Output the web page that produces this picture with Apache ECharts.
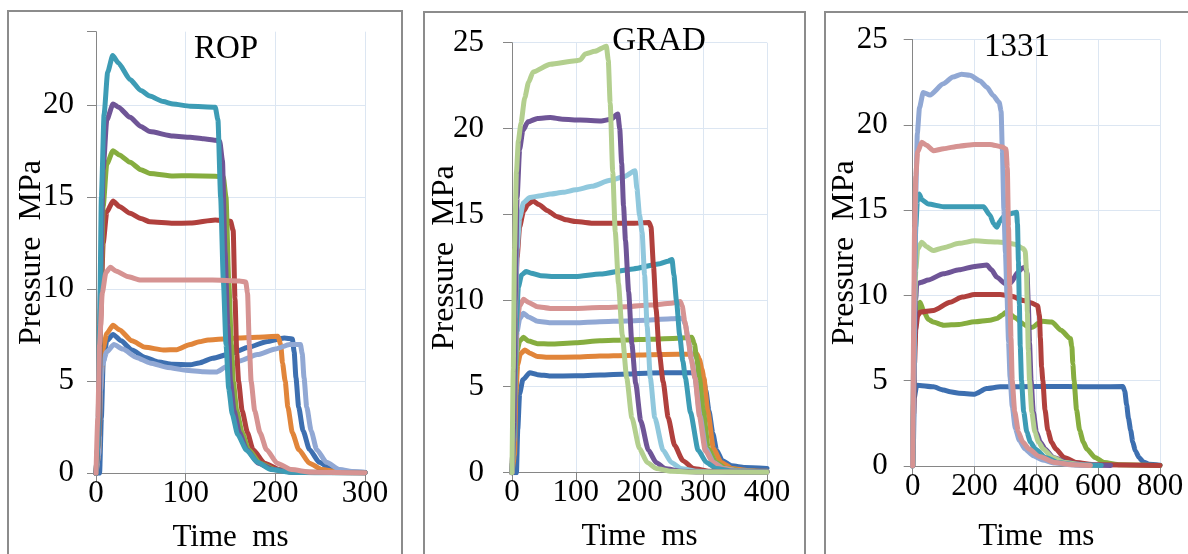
<!DOCTYPE html>
<html>
<head>
<meta charset="utf-8">
<script src="https://cdn.jsdelivr.net/npm/echarts@6/dist/echarts.min.js"></script>
<style>
html,body{margin:0;padding:0;background:#fff;}
#chart{width:1188px;height:554px;}
</style>
</head>
<body>
<div id="chart"></div>
<script>
// ---------- panel titles / axis texts ----------
const panelTitles = ['ROP', 'GRAD', '1331'];
const xName = 'Time  ms';
const yName = 'Pressure  MPa';
const xMax = [300, 400, 800];
const xInterval = [100, 100, 200];
const yMax = [24, 25, 25];
const yInterval = 5;

// ---------- ROP panel series: [time ms, pressure MPa] ----------
const ropBlue = [[0,0],[4,0],[6,3],[8,6],[12,7.2],[19,7.55],[28,7.2],[40,6.7],[55,6.3],[70,6.05],[85,5.92],[105,5.9],[115,6.0],[130,6.25],[150,6.5],[170,6.85],[190,7.15],[210,7.35],[219,7.3],[221,6.6],[223,5.2],[226,3.6],[231,2.3],[238,1.3],[249,0.6],[263,0.2],[280,0.08],[300,0.05]];
const ropOrange = [[0,0],[3,1],[5,4.5],[8,6.8],[12,7.6],[19,8.05],[26,7.8],[40,7.2],[55,6.85],[75,6.7],[90,6.72],[105,7.0],[115,7.15],[125,7.25],[142,7.3],[160,7.35],[180,7.4],[203,7.45],[206,7.0],[208,6.0],[211,5.0],[214,3.6],[219,2.2],[226,1.3],[238,0.55],[252,0.2],[270,0.07],[300,0.04]];
const ropLightBlue = [[0,0],[3,1],[5,4.5],[7,5.9],[12,6.6],[20,7.0],[30,6.75],[45,6.3],[60,6.0],[80,5.75],[100,5.6],[120,5.52],[134,5.5],[146,5.8],[160,6.1],[180,6.45],[200,6.75],[216,7.0],[228,7.0],[230,6.5],[232,5.2],[235,3.6],[240,2.3],[246,1.3],[257,0.6],[272,0.2],[288,0.08],[300,0.06]];
const ropPink = [[0,0],[2,3],[4,7],[7,9.8],[11,10.9],[16,11.2],[22,11.0],[35,10.7],[50,10.5],[75,10.5],[100,10.5],[130,10.5],[160,10.45],[167,10.4],[169,9.8],[171,7.0],[173,5.0],[177,3.4],[183,2.2],[190,1.3],[202,0.55],[218,0.2],[240,0.06],[300,0.03]];
const ropRed = [[0,0],[3,2],[5,8],[8,12.5],[12,14.2],[19,14.8],[26,14.5],[38,14.13],[50,13.85],[60,13.67],[86,13.59],[105,13.6],[133,13.77],[150,13.7],[153,13.2],[155,9.5],[157,6.5],[159,5.0],[163,3.4],[169,2.2],[175,1.3],[188,0.55],[205,0.2],[228,0.06],[300,0.03]];
const ropGreen = [[0,0],[3,2],[5,9],[8,14.5],[12,16.8],[19,17.53],[26,17.3],[38,16.9],[50,16.5],[60,16.3],[86,16.16],[105,16.17],[133,16.15],[142,16.1],[145,15.0],[148,10.5],[151,7.0],[153,5.0],[157,3.4],[163,2.2],[170,1.3],[183,0.55],[200,0.2],[222,0.06],[300,0.03]];
const ropPurple = [[0,0],[3,2],[5,10],[8,16.5],[12,19.2],[19,20.07],[25,19.9],[38,19.35],[50,18.85],[60,18.57],[86,18.33],[105,18.26],[120,18.18],[133,18.1],[138,18.05],[141,17.0],[144,12.0],[147,8.0],[150,5.0],[154,3.4],[160,2.2],[168,1.3],[181,0.55],[198,0.2],[220,0.06],[300,0.03]];
const ropTeal = [[0,0],[2,1.5],[4,8],[6,15],[9,19.5],[13,21.8],[18.6,22.7],[25,22.3],[38,21.4],[50,20.8],[60,20.5],[75,20.2],[86,20.07],[105,19.95],[133,19.9],[136,19.2],[139,15.0],[142,10.5],[145,7.0],[148,4.6],[152,3.2],[158,2.1],[168,1.25],[180,0.6],[195,0.2],[215,0.06],[250,0.03],[300,0.03]];

// ---------- GRAD panel series ----------
const gradBlue = [[0,0],[7,0],[9,2.5],[12,4.6],[17,5.4],[28,5.81],[40,5.7],[60,5.62],[100,5.63],[138,5.68],[180,5.74],[217,5.8],[260,5.81],[297,5.81],[300,5.5],[304,4.8],[309,3.6],[315,2.3],[321,1.3],[330,0.7],[345,0.4],[365,0.3],[400,0.25]];
const gradOrange = [[0,0],[4,1],[6,4.5],[9,6.3],[13,6.9],[20,7.13],[28,6.95],[40,6.75],[60,6.71],[100,6.72],[138,6.78],[180,6.82],[217,6.86],[260,6.88],[290,6.9],[294,6.6],[298,6.0],[301,5.5],[307,3.6],[316,1.4],[328,0.6],[345,0.25],[370,0.12],[400,0.08]];
const gradGreen = [[0,0],[3,2],[5,5.5],[8,7.1],[12,7.65],[18,7.87],[26,7.65],[40,7.5],[60,7.48],[100,7.55],[138,7.67],[180,7.72],[217,7.76],[260,7.82],[282,7.87],[286,7.5],[290,6.6],[294,5.5],[300,3.6],[308,1.4],[320,0.6],[336,0.25],[360,0.1],[400,0.06]];
const gradLightBlue = [[0,0],[3,2],[5,6],[8,8.2],[12,8.95],[18,9.27],[26,9.05],[40,8.8],[60,8.72],[100,8.72],[138,8.78],[180,8.82],[217,8.88],[250,8.95],[268,8.98],[272,8.6],[277,7.6],[282,6.5],[287,5.5],[295,3.3],[304,1.4],[316,0.6],[332,0.25],[355,0.1],[400,0.05]];
const gradPink = [[0,0],[3,2],[5,6.5],[8,8.8],[12,9.7],[18,10.08],[26,9.9],[40,9.65],[60,9.55],[100,9.55],[138,9.6],[180,9.65],[217,9.75],[250,9.85],[264,9.95],[267,9.7],[271,8.8],[276,7.8],[281,6.6],[287,5.5],[294,3.3],[303,1.3],[315,0.6],[330,0.25],[355,0.1],[400,0.05]];
const gradTeal = [[0,0],[3,2],[6,8],[10,10.8],[15,11.5],[22,11.7],[30,11.6],[45,11.45],[70,11.4],[100,11.4],[138,11.55],[190,11.85],[232,12.15],[245,12.3],[251,12.4],[254,11.5],[258,10.0],[263,8.0],[268,6.5],[272,5.5],[280,3.5],[292,1.3],[305,0.6],[320,0.25],[345,0.1],[400,0.05]];
const gradRed = [[0,0],[3,3],[5,9],[8,12.5],[12,14.3],[18,15.2],[25,15.6],[33,15.8],[42,15.6],[55,15.25],[70,14.9],[85,14.7],[100,14.6],[130,14.5],[160,14.5],[190,14.5],[215,14.55],[218,14.3],[222,12.0],[226,9.5],[231,7.0],[237,5.3],[245,3.2],[255,1.6],[268,0.7],[285,0.25],[310,0.08],[350,0.04],[400,0.03]];
const gradLightCyan = [[0,0],[3,3],[5,9],[8,13],[12,14.8],[18,15.7],[28,16.0],[45,16.1],[60,16.2],[80,16.3],[100,16.45],[125,16.65],[154,17.0],[175,17.2],[193,17.55],[196,16.5],[200,15.0],[204,14.0],[208,11.5],[212,8.5],[217,5.5],[224,3.2],[237,1.3],[250,0.6],[265,0.25],[290,0.08],[320,0.04],[400,0.03]];
const gradPurple = [[0,0],[3,3],[5,10],[8,16],[12,18.8],[17,19.9],[25,20.4],[40,20.6],[60,20.65],[80,20.55],[107,20.5],[140,20.45],[155,20.55],[166,20.85],[169,20.0],[172,18.0],[175,15.5],[178,13.5],[183,10.5],[188,7.5],[194,5.2],[202,3.0],[214,1.3],[226,0.6],[240,0.25],[265,0.08],[300,0.04],[400,0.03]];
const gradLightGreen = [[0,0],[2,6],[4,13],[7,17.5],[10,19.3],[14,20.3],[20,21.8],[26,22.7],[33,23.3],[60,23.75],[100,23.95],[107,24.0],[115,24.35],[130,24.5],[148,24.8],[151,24.0],[154,21.5],[158,17.5],[162,14.0],[167,11.0],[173,8.0],[180,5.5],[188,3.2],[200,1.4],[212,0.6],[226,0.25],[250,0.08],[290,0.04],[400,0.03]];

// ---------- 1331 panel series ----------
const c1331Blue = [[0,0],[2,1],[5,4],[13,4.74],[67,4.64],[100,4.45],[121,4.35],[150,4.26],[200,4.21],[239,4.54],[283,4.64],[400,4.66],[500,4.66],[600,4.64],[680,4.66],[686,4.4],[692,3.6],[698,2.8],[705,2.1],[712,1.4],[720,0.9],[732,0.5],[745,0.25],[765,0.1],[800,0.05]];
const c1331Green = [[0,0],[3,4],[6,7],[10,8.5],[16,9.2],[24,9.6],[35,9.1],[50,8.6],[66,8.44],[100,8.25],[150,8.3],[200,8.45],[250,8.55],[272,8.64],[290,8.85],[300,9.0],[315,8.9],[330,8.7],[360,8.3],[378,8.1],[390,8.15],[405,8.35],[420,8.48],[450,8.44],[480,7.95],[510,7.47],[515,7.0],[518,6.0],[522,5.0],[530,3.3],[540,2.1],[552,1.4],[563,1.0],[590,0.5],[620,0.2],[670,0.07],[800,0.03]];
const c1331Red = [[0,0],[3,3],[6,6],[10,8],[16,8.8],[24,9.02],[67,9.12],[121,9.6],[160,9.9],[200,10.05],[283,10.05],[320,9.95],[358,9.7],[385,9.55],[404,9.4],[410,8.8],[413,7.5],[417,5.8],[421,5.0],[428,3.3],[437,2.1],[449,1.4],[463,1.0],[490,0.5],[530,0.2],[590,0.07],[800,0.03]];
const c1331Purple = [[0,0],[3,4],[6,7.5],[10,9.8],[13,10.68],[25,10.75],[50,10.9],[99,11.27],[150,11.5],[200,11.7],[240,11.78],[255,11.5],[272,11.07],[300,10.68],[318,10.75],[340,11.36],[355,11.6],[364,11.66],[370,11.3],[374,9.5],[378,7.2],[383,5.0],[390,3.2],[400,2.0],[413,1.4],[428,1.0],[455,0.5],[500,0.2],[560,0.07],[640,0.03]];
const c1331LightGreen = [[0,0],[3,5],[6,9],[10,11.5],[16,12.7],[29,13.12],[45,12.85],[66,12.63],[100,12.8],[150,13.05],[200,13.2],[250,13.15],[300,13.1],[330,13.0],[357,12.75],[364,12.6],[368,11.5],[371,9.0],[374,6.8],[378,5.0],[385,3.2],[395,2.0],[407,1.4],[422,1.0],[452,0.5],[492,0.2],[550,0.06],[600,0.03]];
const c1331Teal = [[0,0],[3,6],[6,11],[10,14],[15,15.5],[21,15.95],[30,15.6],[50,15.36],[100,15.2],[150,15.2],[200,15.2],[229,15.2],[250,14.7],[262,14.2],[272,14.0],[282,14.35],[293,14.6],[320,14.8],[336,14.87],[339,14.2],[342,12.0],[345,9.5],[348,7.0],[352,5.0],[359,3.2],[369,2.0],[381,1.4],[396,1.0],[430,0.5],[470,0.2],[530,0.07],[610,0.03]];
const c1331Pink = [[0,0],[3,8],[6,14],[10,17],[16,18.4],[29,18.97],[45,18.8],[67,18.48],[100,18.6],[150,18.75],[200,18.85],[250,18.85],[290,18.7],[302,18.58],[306,17.5],[310,14.0],[314,10.5],[318,7.5],[322,5.0],[330,3.2],[342,2.0],[356,1.4],[376,1.0],[410,0.55],[460,0.2],[520,0.07],[575,0.03]];
const c1331LightBlue = [[0,0],[4,5],[7,12],[10,16],[15,19.5],[22,21],[34,21.9],[56,21.75],[99,22.4],[130,22.8],[158,22.96],[185,22.9],[218,22.57],[240,22.2],[261,21.7],[280,21.3],[286,20.8],[290,18.5],[295,15.0],[300,12.5],[305,10.0],[310,7.3],[315,5.2],[322,3.5],[332,2.2],[345,1.5],[363,1.0],[390,0.6],[420,0.35],[460,0.18],[510,0.08],[560,0.03]];

// ---------- colours ----------
const C = {
  blue: '#3d6fb0', orange: '#e1853a', green: '#86ad3f', red: '#b0403d',
  purple: '#6f5597', teal: '#3d9cb5', lightBlue: '#91a8d4', pink: '#d69392',
  lightGreen: '#b3cf8e', lightCyan: '#90c8dd'
};

const panels = [
  [[ropBlue, C.blue], [ropOrange, C.orange], [ropLightBlue, C.lightBlue], [ropRed, C.red],
   [ropGreen, C.green], [ropPurple, C.purple], [ropTeal, C.teal], [ropPink, C.pink]],
  [[gradBlue, C.blue], [gradOrange, C.orange], [gradGreen, C.green], [gradLightBlue, C.lightBlue],
   [gradPink, C.pink], [gradTeal, C.teal], [gradRed, C.red], [gradLightCyan, C.lightCyan],
   [gradPurple, C.purple], [gradLightGreen, C.lightGreen]],
  [[c1331Blue, C.blue], [c1331Green, C.green], [c1331Red, C.red], [c1331Purple, C.purple],
   [c1331LightGreen, C.lightGreen], [c1331Teal, C.teal], [c1331LightBlue, C.lightBlue], [c1331Pink, C.pink]]
];

const FONT = "'Liberation Serif', 'Times New Roman', serif";
const gridBoxes = [
  {left: 96, top: 31.7, width: 269, height: 441.6},
  {left: 512, top: 42.7, width: 255, height: 430},
  {left: 912.7, top: 39.5, width: 247.3, height: 426.5}
];
const yLabelMargin = [22, 28, 25];
const yNameGap = [48, 51, 52];
const xNameGap = [49, 49, 55];
const titlePos = [[226, 49], [659, 41], [1017, 47]];
const frames = [
  {x: 8, y: 11, width: 394, height: 580},
  {x: 424, y: 12, width: 381, height: 580},
  {x: 825, y: 12, width: 420, height: 580}
];

const axisGray = '#868686';
const gridColor = '#dce6f2';

const grid = gridBoxes.map(g => Object.assign({outerBoundsMode: 'none', containLabel: false}, g));
const xAxis = [0,1,2].map(i => ({
  gridIndex: i, type: 'value', min: 0, max: xMax[i], interval: xInterval[i],
  axisLine: {show: true, onZero: false, lineStyle: {color: axisGray, width: 1}},
  axisTick: {show: true, inside: false, length: 8, lineStyle: {color: axisGray}},
  axisLabel: {fontFamily: FONT, fontSize: 31, color: '#000', margin: 5},
  splitLine: {show: true, lineStyle: {color: gridColor, width: 1}},
  name: xName, nameLocation: 'middle', nameGap: xNameGap[i], nameMoveOverlap: false,
  nameTextStyle: {fontFamily: FONT, fontSize: 31, color: '#000'}
}));
const yAxis = [0,1,2].map(i => ({
  gridIndex: i, type: 'value', min: 0, max: yMax[i], interval: yInterval,
  axisLine: {show: true, onZero: false, lineStyle: {color: axisGray, width: 1}},
  axisTick: {show: true, inside: false, length: 9, lineStyle: {color: axisGray}},
  axisLabel: {fontFamily: FONT, fontSize: 31, color: '#000', margin: yLabelMargin[i],
    showMaxLabel: true, formatter: v => (v % yInterval === 0 ? String(v) : '')},
  splitLine: {show: true, showMaxLine: yMax[i] % yInterval === 0, lineStyle: {color: gridColor, width: 1}},
  name: yName, nameLocation: 'middle', nameGap: yNameGap[i], nameRotate: 90, nameMoveOverlap: false,
  nameTextStyle: {fontFamily: FONT, fontSize: 32, color: '#000'}
}));

const series = [];
panels.forEach((list, pi) => {
  list.forEach(([data, color]) => {
    series.push({
      type: 'line', xAxisIndex: pi, yAxisIndex: pi, data: data,
      showSymbol: false, symbol: 'none', smooth: 0.2, smoothMonotone: 'x', clip: true,
      lineStyle: {color: color, width: 5, join: 'round', cap: 'round'},
      itemStyle: {color: color}, emphasis: {disabled: true}, silent: true
    });
  });
});

const graphic = [];
frames.forEach(f => graphic.push({
  type: 'rect', shape: f, silent: true, z: -10,
  style: {fill: 'none', stroke: '#8c8c8c', lineWidth: 2}
}));
panelTitles.forEach((t, i) => graphic.push({
  type: 'text', x: titlePos[i][0], y: titlePos[i][1], silent: true, z: 10,
  style: {text: t, fontFamily: FONT, fontSize: 33, fill: '#000', align: 'center', verticalAlign: 'middle'}
}));

const chart = echarts.init(document.getElementById('chart'), null, {renderer: 'canvas'});
chart.setOption({
  animation: false,
  backgroundColor: '#fff',
  grid: grid, xAxis: xAxis, yAxis: yAxis, series: series, graphic: graphic
});
</script>
</body>
</html>
